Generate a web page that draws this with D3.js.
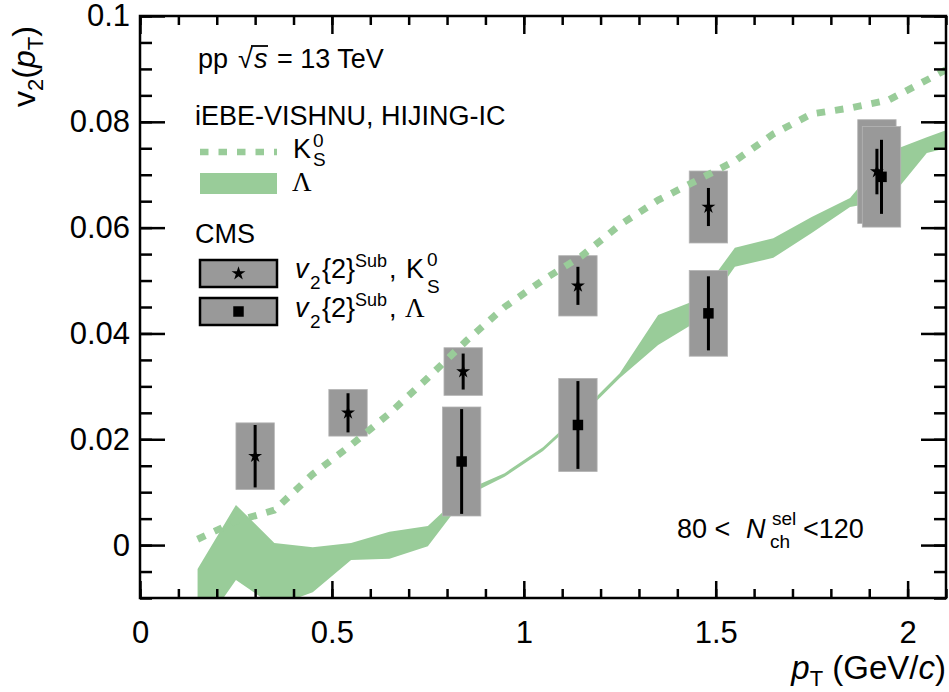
<!DOCTYPE html>
<html>
<head>
<meta charset="utf-8">
<script src="https://cdn.jsdelivr.net/npm/d3@7"></script>
<style>
  body { margin: 0; background: #fff; }
  text { fill: #000; }
</style>
</head>
<body>
<svg id="chart" width="949" height="692"></svg>
<script>
// ---- iEBE-VISHNU (HIJING-IC) model, evaluated on a common pT grid ----
const modelPt   = [0.15, 0.25, 0.35, 0.45, 0.55, 0.65, 0.75, 0.85, 0.95, 1.05, 1.15,
                   1.25, 1.35, 1.45, 1.55, 1.65, 1.75, 1.85, 1.95, 2.05, 2.15];
const k0sModel  = [0.0011, 0.0045, 0.0066, 0.0134, 0.0189, 0.0249, 0.0316, 0.0386, 0.0450, 0.0501, 0.0546,
                   0.0605, 0.0652, 0.0689, 0.0726, 0.0777, 0.0815, 0.0826, 0.0841, 0.0879, 0.0918];
const lamUpper  = [-0.0045, 0.0076, 0.0004, -0.0004, 0.0004, 0.0025, 0.0036, 0.0104, 0.0136, 0.0185, 0.0252,
                   0.0325, 0.0435, 0.0463, 0.0562, 0.0580, 0.0620, 0.0656, 0.0743, 0.0771, 0.0797];
const lamLower  = [-0.0170, -0.0066, -0.0116, -0.0089, -0.0028, -0.0026, -0.0002, 0.0093, 0.0129, 0.0178, 0.0244,
                   0.0316, 0.0378, 0.0422, 0.0526, 0.0543, 0.0590, 0.0639, 0.0652, 0.0741, 0.0759];

// ---- CMS v2{2}^Sub ----
const k0sPt   = [0.300, 0.542, 0.842, 1.141, 1.481, 1.920];
const k0sV2   = [0.0168, 0.0250, 0.0328, 0.0490, 0.0639, 0.0706];
const k0sStat = [0.0059, 0.0037, 0.0034, 0.0036, 0.0036, 0.0043];
const k0sSys  = [0.0063, 0.0044, 0.0045, 0.0057, 0.0068, 0.0098];

const lamPt   = [0.838, 1.141, 1.481, 1.932];
const lamV2   = [0.0158, 0.0227, 0.0438, 0.0696];
const lamStat = [0.0099, 0.0083, 0.0070, 0.0070];
const lamSys  = [0.0103, 0.0088, 0.0081, 0.0095];

const sysHalfWidth = 0.05;

const xTickValues = [0, 0.5, 1, 1.5, 2];
const yTickValues = [0, 0.02, 0.04, 0.06, 0.08, 0.1];

// ---- styling ----
const green = "#99cc99";
const grey  = "#999999";
const SANS  = '"Liberation Sans", Arial, Helvetica, sans-serif';
const SERIF = '"Liberation Serif", "Times New Roman", serif';
const FONT  = 27;
const SMALL = 19;

const svg = d3.select("#chart").style("font-family", SANS);
const frameL = 140, frameR = 946, frameT = 16, frameB = 598;

const x = d3.scaleLinear().domain([0, 2.1]).range([frameL, frameR]);
const y = d3.scaleLinear().domain([-0.01, 0.1]).range([frameB, frameT]);

svg.append("defs").append("clipPath").attr("id", "plotArea")
  .append("rect").attr("x", frameL).attr("y", frameT)
  .attr("width", frameR - frameL).attr("height", frameB - frameT);

const plot = svg.append("g").attr("clip-path", "url(#plotArea)");

// Lambda model band
const band = modelPt.map((p, i) => ({ p, lo: lamLower[i], hi: lamUpper[i] }));
plot.append("path")
  .datum(band)
  .attr("fill", green)
  .attr("d", d3.area().x(d => x(d.p)).y0(d => y(d.lo)).y1(d => y(d.hi)));

// CMS systematic boxes
const k0sData = k0sPt.map((p, i) => ({ p, v: k0sV2[i], stat: k0sStat[i], sys: k0sSys[i] }));
const lamData = lamPt.map((p, i) => ({ p, v: lamV2[i], stat: lamStat[i], sys: lamSys[i] }));

function drawBoxes(data) {
  plot.append("g").selectAll("rect").data(data).join("rect")
    .attr("x", d => x(d.p - sysHalfWidth))
    .attr("width", d => x(d.p + sysHalfWidth) - x(d.p - sysHalfWidth))
    .attr("y", d => y(d.v + d.sys))
    .attr("height", d => y(d.v - d.sys) - y(d.v + d.sys))
    .attr("fill", grey)
    .attr("stroke", "#b4b4b4")
    .attr("stroke-width", 0.8);
}
drawBoxes(k0sData);
drawBoxes(lamData);

// K0S model curve (dashed)
const k0sLine = modelPt.map((p, i) => ({ p, v: k0sModel[i] }));
plot.append("path")
  .datum(k0sLine)
  .attr("fill", "none")
  .attr("stroke", green)
  .attr("stroke-width", 7)
  .attr("stroke-dasharray", "8.5,10")
  .attr("d", d3.line().x(d => x(d.p)).y(d => y(d.v)));

// stat error bars and markers
function drawPoints(data, symbolType, size) {
  const g = plot.append("g");
  g.selectAll("line").data(data).join("line")
    .attr("x1", d => x(d.p)).attr("x2", d => x(d.p))
    .attr("y1", d => y(d.v + d.stat)).attr("y2", d => y(d.v - d.stat))
    .attr("stroke", "#000").attr("stroke-width", 3);
  g.selectAll("path").data(data).join("path")
    .attr("transform", d => `translate(${x(d.p)},${y(d.v)})`)
    .attr("d", d3.symbol().type(symbolType).size(size))
    .attr("fill", "#000");
}
drawPoints(k0sData, d3.symbolStar, 60);
drawPoints(lamData, d3.symbolSquare, 110);

// ---- axes ----
const xMinor = x.ticks(21);
const yMinor = y.ticks(22);

function styleAxis(g) {
  g.select(".domain").remove();
  g.selectAll("line").attr("stroke", "#000").attr("stroke-width", 2.5);
  g.attr("font-family", null);
  g.selectAll("text").attr("font-size", 31).style("font-family", SANS);
}

svg.append("g").attr("transform", `translate(0,${frameB})`)
  .call(d3.axisBottom(x).tickValues(xMinor).tickSizeInner(-9).tickSizeOuter(0).tickFormat(""))
  .call(styleAxis);
svg.append("g").attr("transform", `translate(0,${frameB})`)
  .call(d3.axisBottom(x).tickValues(xTickValues).tickSizeInner(-17).tickSizeOuter(0)
        .tickPadding(23).tickFormat(d => String(d)))
  .call(styleAxis);

svg.append("g").attr("transform", `translate(0,${frameT})`)
  .call(d3.axisTop(x).tickValues(xMinor).tickSizeInner(-9).tickSizeOuter(0).tickFormat(""))
  .call(styleAxis);
svg.append("g").attr("transform", `translate(0,${frameT})`)
  .call(d3.axisTop(x).tickValues(xTickValues).tickSizeInner(-18).tickSizeOuter(0).tickFormat(""))
  .call(styleAxis);

svg.append("g").attr("transform", `translate(${frameL},0)`)
  .call(d3.axisLeft(y).tickValues(yMinor).tickSizeInner(-12).tickSizeOuter(0).tickFormat(""))
  .call(styleAxis);
svg.append("g").attr("transform", `translate(${frameL},0)`)
  .call(d3.axisLeft(y).tickValues(yTickValues).tickSizeInner(-25).tickSizeOuter(0)
        .tickPadding(10).tickFormat(d => String(d)))
  .call(styleAxis);

svg.append("g").attr("transform", `translate(${frameR},0)`)
  .call(d3.axisRight(y).tickValues(yMinor).tickSizeInner(-12).tickSizeOuter(0).tickFormat(""))
  .call(styleAxis);
svg.append("g").attr("transform", `translate(${frameR},0)`)
  .call(d3.axisRight(y).tickValues(yTickValues).tickSizeInner(-25).tickSizeOuter(0).tickFormat(""))
  .call(styleAxis);

svg.append("rect")
  .attr("x", frameL).attr("y", frameT).attr("width", frameR - frameL).attr("height", frameB - frameT)
  .attr("fill", "none").attr("stroke", "#000").attr("stroke-width", 2.5);

// ---- text helpers ----
function label(xp, yp, str, opts = {}) {
  const t = svg.append("text").attr("x", xp).attr("y", yp)
    .attr("font-size", opts.size || FONT)
    .style("font-family", opts.serif ? SERIF : SANS)
    .text(str);
  if (opts.italic) t.attr("font-style", "italic");
  if (opts.anchor) t.attr("text-anchor", opts.anchor);
  return t;
}

// axis titles
const yt = svg.append("text")
  .attr("transform", "translate(35,107) rotate(-90)")
  .attr("font-size", 32);
yt.append("tspan").text("v");
yt.append("tspan").attr("font-size", 22).attr("dy", 8).text("2");
yt.append("tspan").attr("dy", -8).text("(");
yt.append("tspan").attr("font-style", "italic").text("p");
yt.append("tspan").attr("font-size", 22).attr("dy", 8).text("T");
yt.append("tspan").attr("dy", -8).text(")");

const xt = svg.append("text")
  .attr("x", 946).attr("y", 679).attr("text-anchor", "end").attr("font-size", 33);
xt.append("tspan").attr("font-style", "italic").text("p");
xt.append("tspan").attr("font-size", 22).attr("dy", 7).text("T");
xt.append("tspan").attr("dy", -7).text(" (GeV/");
xt.append("tspan").attr("font-style", "italic").text("c");
xt.append("tspan").text(")");

// collision system
label(198, 68, "pp");
label(238, 68, "\u221A");
label(254, 68, "s", { italic: true });
svg.append("line").attr("x1", 251).attr("x2", 268).attr("y1", 46).attr("y2", 46)
  .attr("stroke", "#000").attr("stroke-width", 1.8);
label(277, 68, "= 13 TeV");

// model legend
label(195, 125, "iEBE-VISHNU, HIJING-IC");
svg.append("line").attr("x1", 200).attr("x2", 277).attr("y1", 152).attr("y2", 152)
  .attr("stroke", green).attr("stroke-width", 6.5).attr("stroke-dasharray", "8.5,10");
label(293, 158, "K");
label(313, 147, "0", { size: SMALL });
label(313, 166, "S", { size: SMALL });
svg.append("rect").attr("x", 200).attr("y", 173).attr("width", 77).attr("height", 21).attr("fill", green);
label(292, 191, "\u039B", { serif: true });

// data legend
label(195, 243, "CMS");
function legendBox(yTop, symbolType, size) {
  svg.append("rect").attr("x", 200).attr("y", yTop).attr("width", 77).attr("height", 27)
    .attr("fill", grey).attr("stroke", "#000").attr("stroke-width", 2.5);
  svg.append("path").attr("transform", `translate(238.5,${yTop + 13.5})`)
    .attr("d", d3.symbol().type(symbolType).size(size)).attr("fill", "#000");
}
legendBox(260, d3.symbolStar, 60);
legendBox(298, d3.symbolSquare, 110);

function v2SubText(base) {
  label(295, base, "v", { italic: true });
  label(310, base + 11, "2", { size: SMALL });
  label(322, base, "{2}");
  label(355, base - 11, "Sub", { size: 18 });
  label(389, base, ",");
}
v2SubText(278);
label(406, 278, "K");
label(427, 266, "0", { size: SMALL });
label(427, 293, "S", { size: SMALL });
v2SubText(317);
label(405, 317, "\u039B", { serif: true });

// multiplicity class
label(677, 538, "80 <");
label(746, 538, "N", { italic: true });
label(772, 525, "sel", { size: SMALL });
label(770, 548, "ch", { size: SMALL });
label(803, 538, "<120");
</script>
</body>
</html>
